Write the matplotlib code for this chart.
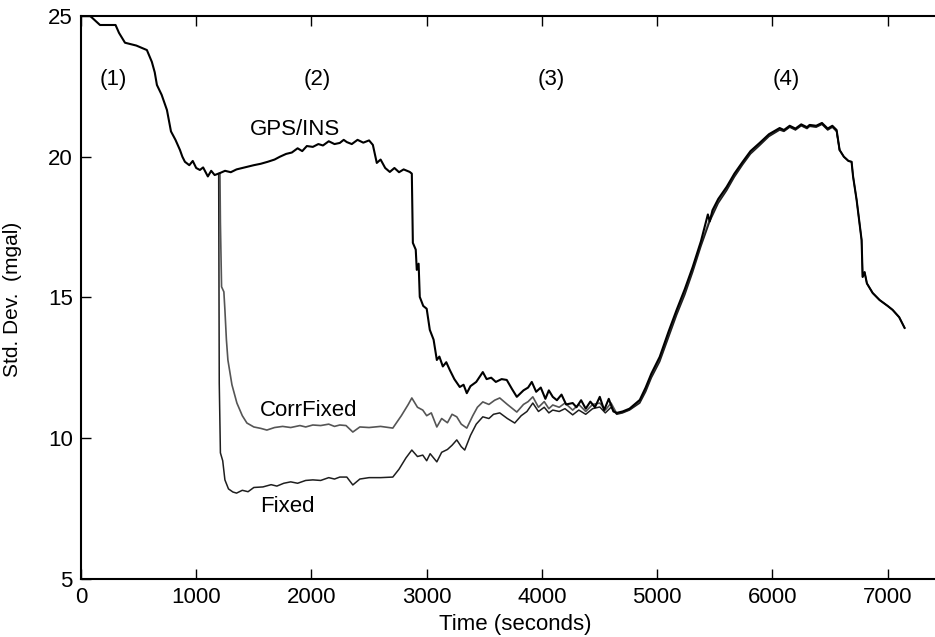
import matplotlib
matplotlib.use("Agg")
import matplotlib.pyplot as plt

plt.rcParams["font.family"] = ["Liberation Sans", "DejaVu Sans"]

# GPS/INS std. dev. (mgal) vs time (s)
gps_t = [0, 80, 165, 300, 330, 382, 480, 572, 615, 640, 659, 700, 746, 781, 820,
         859, 880, 902, 940, 970, 1000, 1032, 1060, 1101, 1130, 1160, 1206, 1250,
         1300, 1350, 1400, 1440, 1500, 1560, 1620, 1680, 1726, 1780, 1830, 1880,
         1920, 1960, 2012, 2060, 2100, 2150, 2200, 2246, 2280, 2307, 2350, 2400,
         2450, 2500, 2533, 2567, 2600, 2640, 2680, 2720, 2760, 2800, 2853, 2871,
         2880, 2905, 2914, 2930, 2940, 2970, 3000, 3027, 3060, 3088, 3110, 3140,
         3170, 3201, 3240, 3287, 3320, 3348, 3380, 3430, 3487, 3520, 3560, 3600,
         3650, 3695, 3740, 3782, 3840, 3880, 3912, 3950, 3990, 4030, 4060, 4094,
         4130, 4170, 4210, 4267, 4300, 4340, 4380, 4420, 4460, 4502, 4540, 4580,
         4620, 4649, 4700, 4760, 4849, 4900, 4950, 5022, 5100, 5169, 5240, 5308,
         5380, 5440, 5456, 5480, 5530, 5603, 5670, 5742, 5810, 5889, 5970, 6063,
         6100, 6150, 6200, 6250, 6300, 6323, 6380, 6430, 6480, 6520, 6557, 6583,
         6620, 6660, 6687, 6700, 6731, 6774, 6783, 6800, 6820, 6870, 6930, 7000,
         7043, 7100, 7147]
gps_sd = [25.0, 25.0, 24.68, 24.68, 24.4, 24.05, 23.95, 23.79, 23.37, 23.0, 22.55,
          22.2, 21.66, 20.9, 20.6, 20.24, 20.0, 19.82, 19.7, 19.85, 19.6, 19.53,
          19.62, 19.3, 19.5, 19.35, 19.42, 19.5, 19.45, 19.55, 19.6, 19.64, 19.7,
          19.75, 19.82, 19.9, 20.0, 20.1, 20.15, 20.3, 20.2, 20.38, 20.35, 20.45,
          20.4, 20.55, 20.45, 20.49, 20.6, 20.52, 20.45, 20.6, 20.5, 20.58, 20.42,
          19.78, 19.9, 19.6, 19.46, 19.6, 19.45, 19.55, 19.46, 19.4, 16.94, 16.7,
          15.98, 16.2, 15.02, 14.7, 14.6, 13.85, 13.5, 12.78, 12.9, 12.55, 12.7,
          12.42, 12.1, 11.82, 11.9, 11.6, 11.85, 12.0, 12.35, 12.1, 12.15, 12.0,
          12.1, 12.07, 11.75, 11.47, 11.7, 11.8, 12.0, 11.65, 11.8, 11.4, 11.7,
          11.47, 11.35, 11.55, 11.2, 11.25, 11.1, 11.35, 11.05, 11.3, 11.1, 11.47,
          11.0, 11.4, 10.95, 10.9, 10.95, 11.05, 11.36, 11.8, 12.3, 12.89, 13.8,
          14.56, 15.3, 16.08, 17.0, 17.95, 17.7, 18.1, 18.5, 18.93, 19.4, 19.82,
          20.2, 20.49, 20.8, 21.02, 20.95, 21.1, 21.0, 21.15, 21.05, 21.13, 21.1,
          21.2, 21.0, 21.1, 20.95, 20.24, 20.0, 19.85, 19.82, 19.3, 18.46, 17.04,
          15.73, 15.9, 15.5, 15.16, 14.91, 14.7, 14.56, 14.3, 13.92]

# Fixed
fix_t = [1195, 1200, 1210, 1230, 1249, 1280, 1318, 1350, 1400, 1450, 1500, 1579,
         1650, 1700, 1760, 1820, 1880, 1950, 2012, 2080, 2150, 2200, 2246, 2307,
         2359, 2420, 2500, 2600, 2706, 2760, 2820, 2871, 2920, 2966, 3000, 3030,
         3088, 3130, 3180, 3220, 3261, 3300, 3330, 3380, 3430, 3487, 3540, 3580,
         3634, 3700, 3764, 3820, 3870, 3921, 3970, 4020, 4060, 4094, 4150, 4200,
         4267, 4320, 4380, 4440, 4502, 4550, 4600, 4649, 4700, 4760, 4849, 4900,
         4950, 5022, 5100, 5169, 5240, 5308, 5380, 5456, 5530, 5603, 5670, 5742,
         5810, 5889, 5970, 6063, 6100, 6150, 6200, 6250, 6300, 6323, 6380, 6430,
         6480, 6520, 6557, 6583, 6620, 6660, 6687, 6700, 6731, 6774, 6783, 6800,
         6820, 6870, 6930, 7000, 7043, 7100, 7147]
fix_sd = [19.4, 11.96, 9.48, 9.2, 8.52, 8.2, 8.09, 8.05, 8.15, 8.1, 8.25, 8.27,
          8.35, 8.3, 8.4, 8.45, 8.4, 8.5, 8.52, 8.5, 8.6, 8.55, 8.62, 8.62, 8.34,
          8.55, 8.6, 8.6, 8.62, 8.9, 9.3, 9.58, 9.35, 9.4, 9.2, 9.45, 9.16, 9.5,
          9.6, 9.75, 9.94, 9.7, 9.58, 10.1, 10.5, 10.76, 10.7, 10.85, 10.9, 10.7,
          10.54, 10.8, 10.95, 11.25, 10.95, 11.1, 10.9, 11.0, 10.95, 11.05, 10.83,
          11.0, 10.85, 11.05, 11.11, 10.9, 11.1, 10.85, 10.9, 11.0, 11.25, 11.65,
          12.15, 12.72, 13.6, 14.38, 15.1, 15.9, 16.82, 17.7, 18.35, 18.8, 19.28,
          19.72, 20.1, 20.4, 20.72, 20.95, 20.9, 21.05, 20.95, 21.1, 21.0, 21.08,
          21.05, 21.15, 20.95, 21.05, 20.9, 20.24, 20.0, 19.85, 19.82, 19.3, 18.46,
          17.04, 15.73, 15.9, 15.5, 15.16, 14.91, 14.7, 14.56, 14.3, 13.92]

# CorrFixed
cor_t = [1206, 1210, 1220, 1240, 1249, 1262, 1275, 1310, 1353, 1400, 1440, 1500,
         1560, 1613, 1680, 1750, 1820, 1900, 1950, 2012, 2080, 2150, 2200, 2246,
         2300, 2359, 2420, 2500, 2600, 2706, 2780, 2840, 2871, 2920, 2966, 3000,
         3040, 3088, 3130, 3180, 3220, 3261, 3300, 3348, 3400, 3440, 3487, 3540,
         3590, 3634, 3700, 3782, 3840, 3880, 3921, 3970, 4020, 4060, 4094, 4150,
         4200, 4267, 4320, 4380, 4440, 4502, 4550, 4600, 4649, 4700, 4760, 4849,
         4900, 4950, 5022, 5100, 5169, 5240, 5308, 5380, 5456, 5530, 5603, 5670,
         5742, 5810, 5889, 5970, 6063, 6100, 6150, 6200, 6250, 6300, 6323, 6380,
         6430, 6480, 6520, 6557, 6583]
cor_sd = [19.42, 17.65, 15.38, 15.2, 14.56, 13.5, 12.78, 11.9, 11.25, 10.8, 10.54,
          10.4, 10.35, 10.29, 10.38, 10.42, 10.38, 10.45, 10.4, 10.47, 10.45, 10.5,
          10.42, 10.47, 10.45, 10.22, 10.4, 10.38, 10.42, 10.36, 10.8, 11.2, 11.43,
          11.1, 11.0, 10.8, 10.9, 10.4, 10.7, 10.55, 10.85, 10.76, 10.5, 10.36,
          10.8, 11.1, 11.29, 11.2, 11.35, 11.43, 11.2, 10.93, 11.2, 11.3, 11.47,
          11.1, 11.3, 11.05, 11.18, 11.1, 11.25, 11.0, 11.2, 10.95, 11.2, 11.25,
          11.0, 11.25, 10.88, 10.92, 11.02, 11.3, 11.72, 12.22, 12.8, 13.7, 14.47,
          15.2, 16.0, 16.9, 17.78, 18.42, 18.86, 19.34, 19.77, 20.15, 20.45, 20.76,
          20.98, 20.92, 21.07, 20.97, 21.12, 21.02, 21.1, 21.07, 21.17, 20.97,
          21.07, 20.92, 20.24]

region_x = [280, 2047, 4085, 6123]
region_lbl = ["(1)", "(2)", "(3)", "(4)"]

fig = plt.figure(figsize=(9.35, 6.37), dpi=100)
ax = fig.add_axes([0.0866, 0.0911, 0.986, 0.8838])

ax.plot(cor_t, cor_sd, color="#555555", lw=1.2)
ax.plot(fix_t, fix_sd, color="#1e1e1e", lw=1.1)
ax.plot(gps_t, gps_sd, color="black", lw=1.5)

for x, s in zip(region_x, region_lbl):
    ax.text(x, 22.73, s, ha="center", va="center", fontsize=16)
ax.text(1855, 20.95, "GPS/INS", ha="center", va="center", fontsize=16)
ax.text(1978, 11.0, "CorrFixed", ha="center", va="center", fontsize=16)
ax.text(1787, 7.56, "Fixed", ha="center", va="center", fontsize=16)

ax.set_xlim(0, 8000)
ax.set_ylim(5, 25)
# 8000 falls outside the cropped picture, so only 0..7000 are ticked
ax.set_xticks(range(0, 7001, 1000))
ax.set_yticks([5, 10, 15, 20, 25])
ax.tick_params(direction="in", top=True, right=True, length=7, width=1,
               labelsize=16, pad=6)
for sp in ax.spines.values():
    sp.set_linewidth(1.5)

ax.set_xlabel("Time (seconds)", fontsize=16)
ax.xaxis.set_label_coords(0.471, -0.062)
ax.set_ylabel("Std. Dev.  (mgal)", fontsize=15)
ax.yaxis.set_label_coords(-0.064, 0.496)

fig.savefig("out.png", dpi=100)
